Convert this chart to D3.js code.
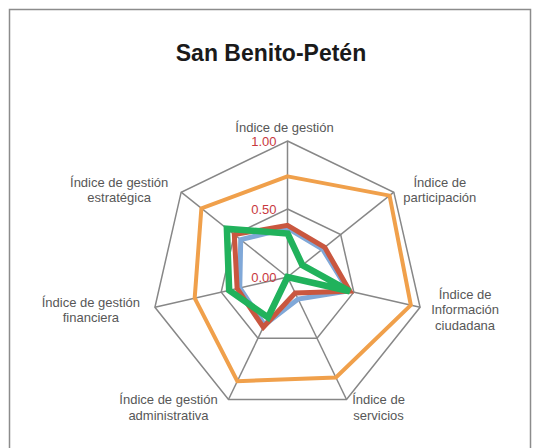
<!DOCTYPE html>
<html>
<head>
<meta charset="utf-8">
<script src="https://cdn.jsdelivr.net/npm/d3@7"></script>
<style>
  body { margin: 0; background: #fff; }
  svg { display: block; font-family: "Liberation Sans", Arial, sans-serif; }
</style>
</head>
<body>
<svg id="radar" width="542" height="448"></svg>
<script>
const categories = [
  ["Índice de gestión"],
  ["Índice de", "participación"],
  ["Índice de", "Información", "ciudadana"],
  ["Índice de", "servicios"],
  ["Índice de gestión", "administrativa"],
  ["Índice de gestión", "financiera"],
  ["Índice de gestión", "estratégica"]
];
const serieAzul    = [0.36, 0.33, 0.46, 0.18, 0.39, 0.36, 0.44];
const serieRoja    = [0.38, 0.35, 0.47, 0.13, 0.41, 0.38, 0.50];
const serieNaranja = [0.74, 0.96, 0.93, 0.82, 0.85, 0.70, 0.81];
const serieVerde   = [0.32, 0.14, 0.47, 0.00, 0.33, 0.44, 0.57];
const ticks = [0, 0.5, 1];

const svg = d3.select("#radar");
const cx = 287.5, cy = 277, radius = 136;
const n = categories.length;

// marco del gráfico
svg.append("rect")
  .attr("x", 9.5).attr("y", 9.5)
  .attr("width", 521).attr("height", 460)
  .attr("fill", "none")
  .attr("stroke", "#8c8c8c")
  .attr("stroke-width", 1.5);

svg.append("text")
  .attr("x", 271).attr("y", 61)
  .attr("text-anchor", "middle")
  .attr("font-size", "23px")
  .attr("font-weight", "bold")
  .attr("fill", "#1a1a1a")
  .text("San Benito-Petén");

const r = d3.scaleLinear().domain([0, 1]).range([0, radius]);
const angle = i => i * 2 * Math.PI / n;
const pt = (i, v) => [cx + r(v) * Math.sin(angle(i)), cy - r(v) * Math.cos(angle(i))];

const g = svg.append("g");

// anillos
ticks.filter(t => t > 0).forEach(t => {
  g.append("polygon")
    .attr("points", d3.range(n).map(i => pt(i, t).join(",")).join(" "))
    .attr("fill", "none")
    .attr("stroke", "#878787")
    .attr("stroke-width", 1.5);
});

// ejes
d3.range(n).forEach(i => {
  const [x, y] = pt(i, 1);
  g.append("line")
    .attr("x1", cx).attr("y1", cy)
    .attr("x2", x).attr("y2", y)
    .attr("stroke", "#878787")
    .attr("stroke-width", 1.5);
});

// series
const radarLine = d3.lineRadial()
  .angle((d, i) => angle(i))
  .radius(d => r(d))
  .curve(d3.curveLinearClosed);

const series = [
  { values: serieNaranja, color: "#f0a04b", w: 4 },
  { values: serieAzul, color: "#80a8d8", w: 5 },
  { values: serieRoja, color: "#c9573f", w: 5 },
  { values: serieVerde, color: "#21b25c", w: 6.5 }
];

series.forEach(s => {
  g.append("path")
    .datum(s.values)
    .attr("transform", `translate(${cx},${cy})`)
    .attr("d", radarLine)
    .attr("fill", "none")
    .attr("stroke", s.color)
    .attr("stroke-width", s.w)
    .attr("stroke-linejoin", "miter");
});

// etiquetas de valores
g.selectAll("text.tick")
  .data(ticks)
  .enter()
  .append("text")
  .attr("class", "tick")
  .attr("x", cx - 11)
  .attr("y", d => cy - r(d))
  .attr("dy", "0.35em")
  .attr("text-anchor", "end")
  .attr("font-size", "13px")
  .attr("fill", "#c8383e")
  .text(d => d.toFixed(2));

// etiquetas de categorías
const labelOffset = [[-3, -14], [46, -10], [45, -13], [32, 0], [-60, 0], [-64, -5], [-62, -10]];
categories.forEach((lines, i) => {
  const [x, y] = pt(i, 1);
  const t = g.append("text")
    .attr("text-anchor", "middle")
    .attr("font-size", "13px")
    .attr("fill", "#575757");
  lines.forEach((ln, k) => {
    t.append("tspan")
      .attr("x", x + labelOffset[i][0])
      .attr("y", y + labelOffset[i][1] + k * 15.5)
      .attr("dy", "0.35em")
      .text(ln);
  });
});
</script>
</body>
</html>
